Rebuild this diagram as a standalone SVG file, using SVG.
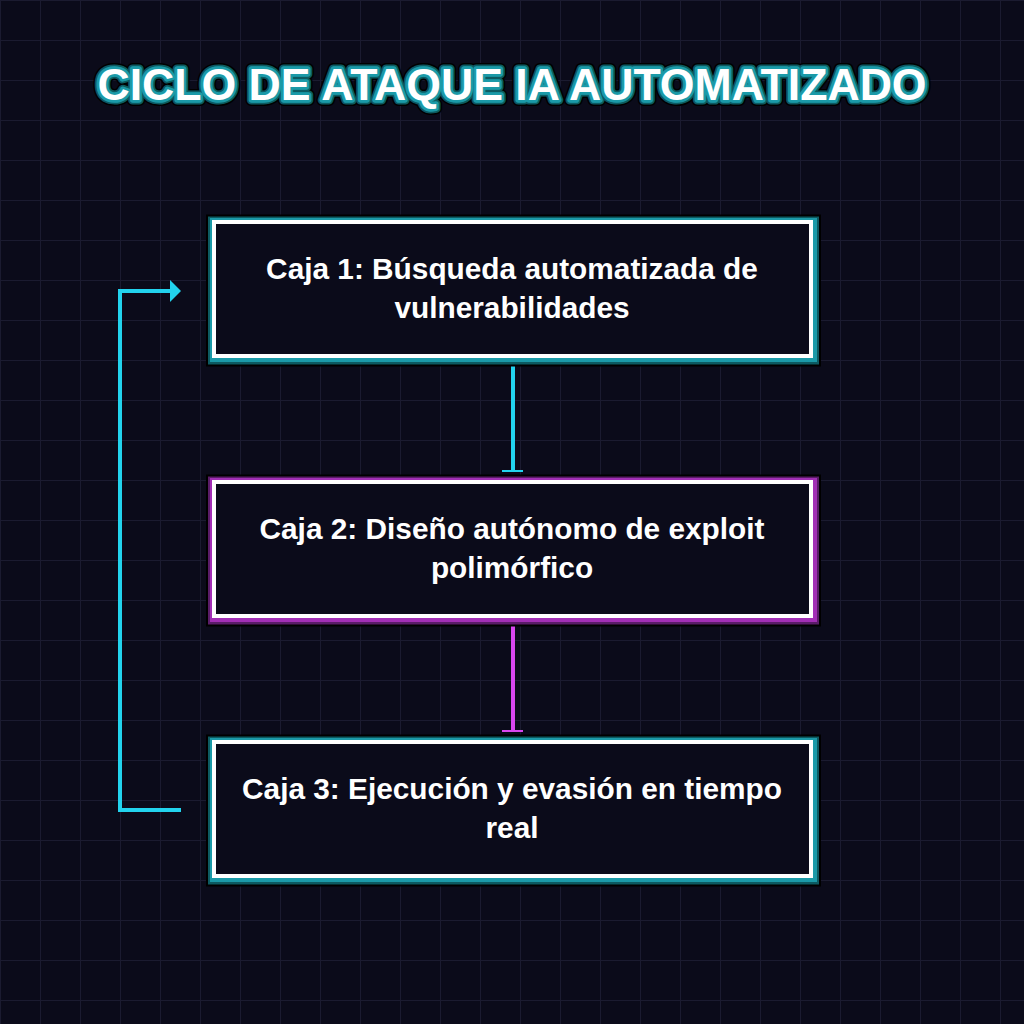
<svg xmlns="http://www.w3.org/2000/svg" xmlns:xlink="http://www.w3.org/1999/xlink" width="1024" height="1024" viewBox="0 0 1024 1024">
  <defs>
    <pattern id="grid" width="40" height="40" patternUnits="userSpaceOnUse">
      <path d="M40 0 L0 0 0 40" fill="none" stroke="#1b1b30" stroke-width="2"/>
    </pattern>
    <style>
      .title { font-family: "Liberation Sans", Arial, sans-serif; font-weight: bold; font-size: 44.6px; text-anchor: middle; }
      .label { font-family: "Liberation Sans", Arial, sans-serif; font-weight: bold; font-size: 29.8px; fill: #ffffff; text-anchor: middle; }
      .g0 { fill: none; stroke: #000000; stroke-width: 18; }
      .ct1 { fill: none; stroke: #0d5a61; stroke-width: 14; }
      .ct2 { fill: none; stroke: #1b9aa8; stroke-width: 10; }
      .cm1 { fill: none; stroke: #5a1c68; stroke-width: 14; }
      .cm2 { fill: none; stroke: #a22fb5; stroke-width: 10; }
      .w { fill: #0b0b1a; stroke: #ffffff; stroke-width: 4; }
      .cy { stroke: #22d3ee; stroke-width: 4; fill: none; }
      .mg { stroke: #d946ef; stroke-width: 4; fill: none; }
    </style>
    <text id="t" class="title" x="512" y="100">CICLO DE ATAQUE IA AUTOMATIZADO</text>
  </defs>
  <rect width="1024" height="1024" fill="#0b0b1a"/>
  <rect width="1024" height="1024" fill="url(#grid)"/>

  <g id="title">
    <use xlink:href="#t" fill="#000" stroke="#000" stroke-width="12" stroke-linejoin="round"/>
    <use xlink:href="#t" fill="#0d5a61" stroke="#0d5a61" stroke-width="9" stroke-linejoin="round"/>
    <use xlink:href="#t" fill="#1b9aa8" stroke="#1b9aa8" stroke-width="5.5" stroke-linejoin="round"/>
    <use xlink:href="#t" fill="#ffffff"/>
  </g>

  <g id="connectors">
    <line class="cy" x1="513" y1="360" x2="513" y2="471"/>
    <rect x="502" y="470" width="21" height="2" fill="#22d3ee"/>
    <line class="mg" x1="513" y1="620" x2="513" y2="731"/>
    <rect x="502" y="730" width="21" height="2" fill="#d946ef"/>
    <polyline class="cy" points="181,810 120,810 120,291 172,291"/>
    <polygon points="170,280 181,291 170,302" fill="#22d3ee"/>
  </g>

  <g id="node1">
    <rect class="g0" x="215" y="223.5" width="597" height="134"/>
    <rect class="ct1" x="215" y="223.5" width="597" height="134"/>
    <rect class="ct2" x="215" y="223" width="597" height="134"/>
    <rect class="w" x="214" y="222" width="597" height="134"/>
    <text class="label" x="512" y="278.5">Caja 1: Búsqueda automatizada de</text>
    <text class="label" x="512" y="317.5">vulnerabilidades</text>
  </g>

  <g id="node2">
    <rect class="g0" x="215" y="483.5" width="597" height="134"/>
    <rect class="cm1" x="215" y="483.5" width="597" height="134"/>
    <rect class="cm2" x="215" y="483" width="597" height="134"/>
    <rect class="w" x="214" y="482" width="597" height="134"/>
    <text class="label" x="512" y="538.5">Caja 2: Diseño autónomo de exploit</text>
    <text class="label" x="512" y="577.5">polimórfico</text>
  </g>

  <g id="node3">
    <rect class="g0" x="215" y="743.5" width="597" height="134"/>
    <rect class="ct1" x="215" y="743.5" width="597" height="134"/>
    <rect class="ct2" x="215" y="743" width="597" height="134"/>
    <rect class="w" x="214" y="742" width="597" height="134"/>
    <text class="label" x="512" y="798.5">Caja 3: Ejecución y evasión en tiempo</text>
    <text class="label" x="512" y="837.5">real</text>
  </g>
</svg>
